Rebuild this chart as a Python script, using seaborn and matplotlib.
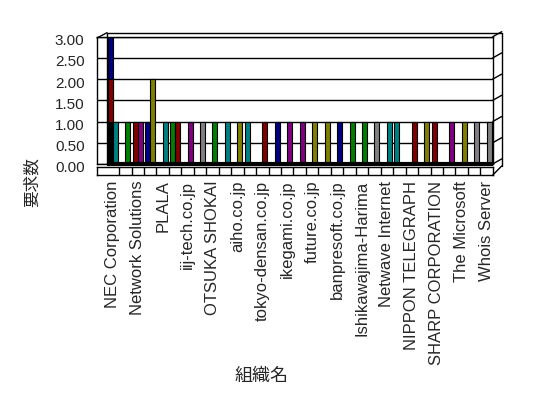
import numpy as np
import pandas as pd
import matplotlib
matplotlib.use("Agg")
import matplotlib.pyplot as plt
from matplotlib.lines import Line2D
from matplotlib.transforms import ScaledTranslation, IdentityTransform
import seaborn as sns

# ===============================
# DATA
# ===============================

# every other organisation is labelled on the axis
org_labels = [
    "NEC Corporation", "Network Solutions", "PLALA", "iij-tech.co.jp",
    "OTSUKA SHOKAI", "aiho.co.jp", "tokyo-densan.co.jp", "ikegami.co.jp",
    "future.co.jp", "banpresoft.co.jp", "Ishikawajima-Harima",
    "Netwave Internet", "NIPPON TELEGRAPH", "SHARP CORPORATION",
    "The Microsoft", "Whois Server",
]
n_cats = 31

# two bars per category (left / right slot)
left_vals = [1, 0, 1, 1, 0, 1, 0, 0, 0, 0, 0, 1, 0, 0, 0, 0,
             0, 0, 0, 0, 0, 0, 0, 1, 0, 0, 1, 0, 0, 0, 0]
right_vals = [1, 1, 1, 2, 1, 1, 1, 1, 1, 1, 1, 0, 1, 1, 1, 1,
              1, 1, 1, 1, 1, 1, 1, 0, 1, 1, 0, 1, 1, 1, 1]
left_colors = ["black", None, "red", "navy", None, "green", None, None,
               None, None, None, "teal", None, None, None, None,
               None, None, None, None, None, None, None, "teal",
               None, None, "red", None, None, None, None]
right_colors = ["teal", "green", "purple", "olive", "teal", "red", "purple",
                "gray", "green", "teal", "olive", None, "red", "navy",
                "purple", "purple", "olive", "olive", "navy", "green",
                "green", "gray", "teal", None, "red", "olive", None,
                "purple", "olive", "gray", "gray"]

# taller bars standing behind the first (NEC) bar
behind_first_vals = [3, 2]
behind_first_colors = ["navy", "red"]

PALETTE = {
    "black": "#000000", "red": "#800000", "navy": "#000080",
    "teal": "#008080", "green": "#008000", "purple": "#800080",
    "olive": "#808000", "gray": "#808080",
}

# ===============================
# FIGURE
# ===============================

sns.set_style("white")
plt.rcParams["font.family"] = ["Liberation Sans", "DejaVu Sans"]

W, H = 548, 398
fig = plt.figure(figsize=(W / 100, H / 100), dpi=100)


def box(x0, y0, x1, y1):
    # pixel box (y from top) -> figure fraction rect
    return [x0 / W, 1 - y1 / H, (x1 - x0) / W, (y1 - y0) / H]


ax = fig.add_axes(box(97, 36.7, 492.8, 163.9))
ax2 = fig.add_axes(box(97, 166.5, 492.8, 175))

XLIM = (-1.27, n_cats - 0.5)


def draw_layer(lv, rv, lc, rc):
    df = pd.DataFrame({
        "cat": np.tile(np.arange(n_cats), 2),
        "slot": ["a"] * n_cats + ["b"] * n_cats,
        "val": list(lv) + list(rv),
    })
    sns.barplot(data=df, x="cat", y="val", hue="slot", hue_order=["a", "b"],
                order=list(range(n_cats)), errorbar=None, legend=False,
                width=0.8, ax=ax)
    for cont, cols in zip(ax.containers[-2:], [lc, rc]):
        for patch, c in zip(cont.patches, cols):
            if c is None:
                patch.set_visible(False)
            else:
                patch.set_facecolor(PALETTE[c])
                patch.set_edgecolor("black")
                patch.set_linewidth(0.8)
                patch.set_zorder(3)


# bars behind the first one, then the front layer
for v, c in zip(behind_first_vals, behind_first_colors):
    lv = [v] + [0] * (n_cats - 1)
    lc = [c] + [None] * (n_cats - 1)
    draw_layer(lv, [0] * n_cats, lc, [None] * n_cats)
draw_layer(left_vals, right_vals, left_colors, right_colors)

ax.set_xlim(*XLIM)
ax.set_ylim(0, 3)
ax.set_xticks([])
ax.set_xlabel("")
ax.set_ylabel("")
yt = np.arange(0, 3.01, 0.5)
ax.set_yticks(yt)
ax.set_yticklabels([f"{v:.2f}" for v in yt], fontsize=11)
ax.tick_params(axis="y", length=0, pad=9)
for lab in ax.get_yticklabels():
    lab.set_transform(lab.get_transform()
                      + ScaledTranslation(0, -3 / 100, fig.dpi_scale_trans))
ax.yaxis.grid(True, color="black", linewidth=1)
ax.set_axisbelow(True)
for s in ax.spines.values():
    s.set_color("black")
    s.set_linewidth(1)
# black floor under the bars
ax.hlines(0, -0.5, n_cats - 0.5, color="black", linewidth=3,
          clip_on=False, zorder=4, capstyle="butt")

# floor strip with category cells
ax2.set_xlim(*XLIM)
ax2.set_ylim(0, 1)
ax2.vlines(np.arange(n_cats - 1) + 0.5, 0, 1, color="black", linewidth=1)
ax2.set_yticks([])
ax2.set_xticks(np.arange(0, n_cats, 2))
ax2.set_xticklabels(org_labels, rotation=90, fontsize=12, va="top")
ax2.tick_params(axis="x", length=0, pad=4)
for s in ax2.spines.values():
    s.set_color("black")
    s.set_linewidth(1)

# 3D frame edges
def px_line(xs, ys):
    fig.add_artist(Line2D(xs, [H - y for y in ys], color="black",
                          linewidth=1, transform=IdentityTransform()))


px_line([97, 107], [38, 32.7])
px_line([107, 501.7], [32.7, 32.7])
px_line([107, 107], [32.7, 163.9])
px_line([501.7, 501.7], [32.7, 166])
px_line([492.8, 501.7], [175, 166])
fig.canvas.draw()
for v in yt:
    yd = ax.transData.transform((0, v))[1]
    px_line([492.8, 501.7], [H - yd, H - yd - 5])

fig.text(32 / W, 1 - 182 / H, "要求数", rotation=90, fontsize=12,
         family=["Noto Sans CJK JP", "DejaVu Sans"], ha="center", va="center")
fig.text(262 / W, 1 - 376 / H, "組織名", fontsize=13,
         family=["Noto Sans CJK JP", "DejaVu Sans"], ha="center", va="center")

fig.savefig("out.png", dpi=100, facecolor="white")
